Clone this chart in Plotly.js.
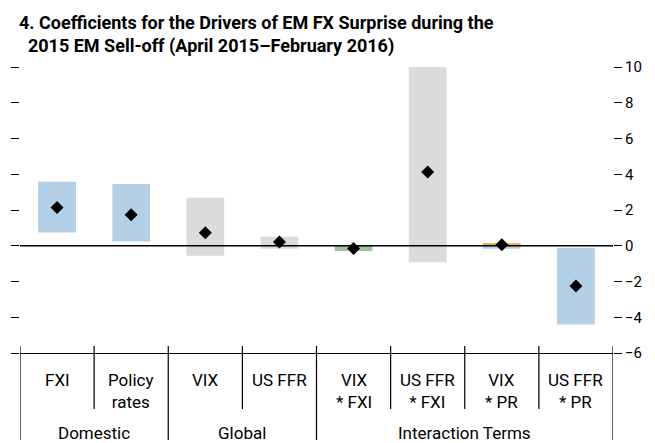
<!DOCTYPE html>
<html>
<head>
<meta charset="utf-8">
<script src="https://cdn.plot.ly/plotly-3.0.1.min.js"></script>
<style>html,body{margin:0;padding:0;background:#fff;}#chart{width:655px;height:443px;}</style>
</head>
<body>
<div id="chart"></div>
<script>
// ---- data ----
const categories = ['FXI', 'Policy rates', 'VIX', 'US FFR', 'VIX * FXI', 'US FFR * FXI', 'VIX * PR', 'US FFR * PR'];
const categoryLabels = ['FXI', 'Policy<br>rates', 'VIX', 'US FFR', 'VIX<br>* FXI', 'US FFR<br>* FXI', 'VIX<br>* PR', 'US FFR<br>* PR'];
const groupNames = ['Domestic', 'Global', 'Interaction Terms'];
const groupSizes = [2, 2, 4];
const lowerBound = [0.74, 0.24, -0.56, -0.17, -0.30, -0.93, -0.17, -4.40];
const upperBound = [3.58, 3.46, 2.68, 0.50, 0.00, 10.0, 0.00, -0.11];
const coefficient = [2.14, 1.73, 0.73, 0.21, -0.15, 4.13, 0.05, -2.25];
const secondLower = [null, null, null, null, null, null, 0.00, null];
const secondUpper = [null, null, null, null, null, null, 0.15, null];
const yTicks = [-6, -4, -2, 0, 2, 4, 6, 8, 10];

// ---- styles ----
const BLUE = '#b4d0e6', GRAY = '#dadbdd', GREEN = '#9ec49b', ORANGE = '#f6b445';
const barColors = [BLUE, BLUE, GRAY, GRAY, GREEN, GRAY, BLUE, BLUE];
const FONT = 'Roboto, "Liberation Sans", sans-serif';

const traces = [
  {
    type: 'bar', x: categories, base: lowerBound,
    y: upperBound.map((u, i) => u - lowerBound[i]),
    width: 0.51, marker: {color: barColors, line: {width: 0}},
    hoverinfo: 'skip', showlegend: false
  },
  {
    type: 'bar', x: categories, base: secondLower,
    y: secondUpper.map((u, i) => (u === null ? null : u - secondLower[i])),
    width: 0.51, marker: {color: ORANGE, line: {width: 0}},
    hoverinfo: 'skip', showlegend: false
  },
  {
    type: 'scatter', mode: 'markers', x: categories, y: coefficient,
    marker: {symbol: 'diamond', size: 10, color: '#000'},
    showlegend: false
  }
];

// table below the plot
const PLOT_H = 286;
const px = p => -p / PLOT_H; // pixels below plot bottom -> paper y
const shapes = [
  {type: 'line', xref: 'paper', x0: 0, x1: 1, yref: 'y', y0: 0, y1: 0,
   line: {color: '#000', width: 1.3}, layer: 'above'}
];
const groupEdges = [0];
groupSizes.forEach(s => groupEdges.push(groupEdges[groupEdges.length - 1] + s));
for (let i = 0; i <= categories.length; i++) {
  const isGroup = groupEdges.indexOf(i) >= 0;
  shapes.push({type: 'line', xref: 'x', x0: i - 0.5, x1: i - 0.5, yref: 'paper',
    y0: 7 / PLOT_H, y1: px(isGroup ? 87 : 56), line: {color: '#000', width: 1.2}});
}
const annotations = [];
categoryLabels.forEach((t, i) => {
  annotations.push({xref: 'x', x: i, yref: 'paper', y: px(15), yanchor: 'top', xanchor: 'center',
    text: t, showarrow: false, font: {family: FONT, size: 17, color: '#000'}});
});
groupNames.forEach((g, k) => {
  const c = (groupEdges[k] + groupEdges[k + 1] - 1) / 2;
  annotations.push({xref: 'x', x: c, yref: 'paper', y: px(80), yanchor: 'middle', xanchor: 'center',
    text: g, showarrow: false, font: {family: FONT, size: 17, color: '#000'}});
});

const layout = {
  width: 655, height: 443,
  margin: {l: 20, r: 42, t: 67, b: 90, pad: 0},
  paper_bgcolor: '#fff', plot_bgcolor: '#fff',
  barmode: 'overlay',
  title: {
    text: '4. Coefficients for the Drivers of EM FX Surprise during the<br>\u00a0\u00a02015 EM Sell-off (April 2015\u2013February 2016)',
    x: 19 / 655, xanchor: 'left', xref: 'container',
    y: 1 - 29 / 443, yanchor: 'top', yref: 'container',
    font: {family: FONT, size: 18, color: '#000', weight: 'bold'}
  },
  xaxis: {type: 'category', range: [-0.5, 7.5], showticklabels: false, ticks: '',
    showline: true, linecolor: '#000', linewidth: 1.3, showgrid: false, zeroline: false, fixedrange: true},
  yaxis: {range: [-6, 10], tickvals: yTicks, side: 'right', ticks: 'outside', ticklen: 8,
    tickwidth: 1, tickcolor: '#000', mirror: 'ticks', showline: false, showgrid: false,
    zeroline: false, ticklabelstandoff: 0,
    tickfont: {family: FONT, size: 15, color: '#000'}, fixedrange: true},
  shapes: shapes,
  annotations: annotations,
  showlegend: false
};

Plotly.newPlot('chart', traces, layout, {displayModeBar: false, staticPlot: true});
</script>
</body>
</html>
